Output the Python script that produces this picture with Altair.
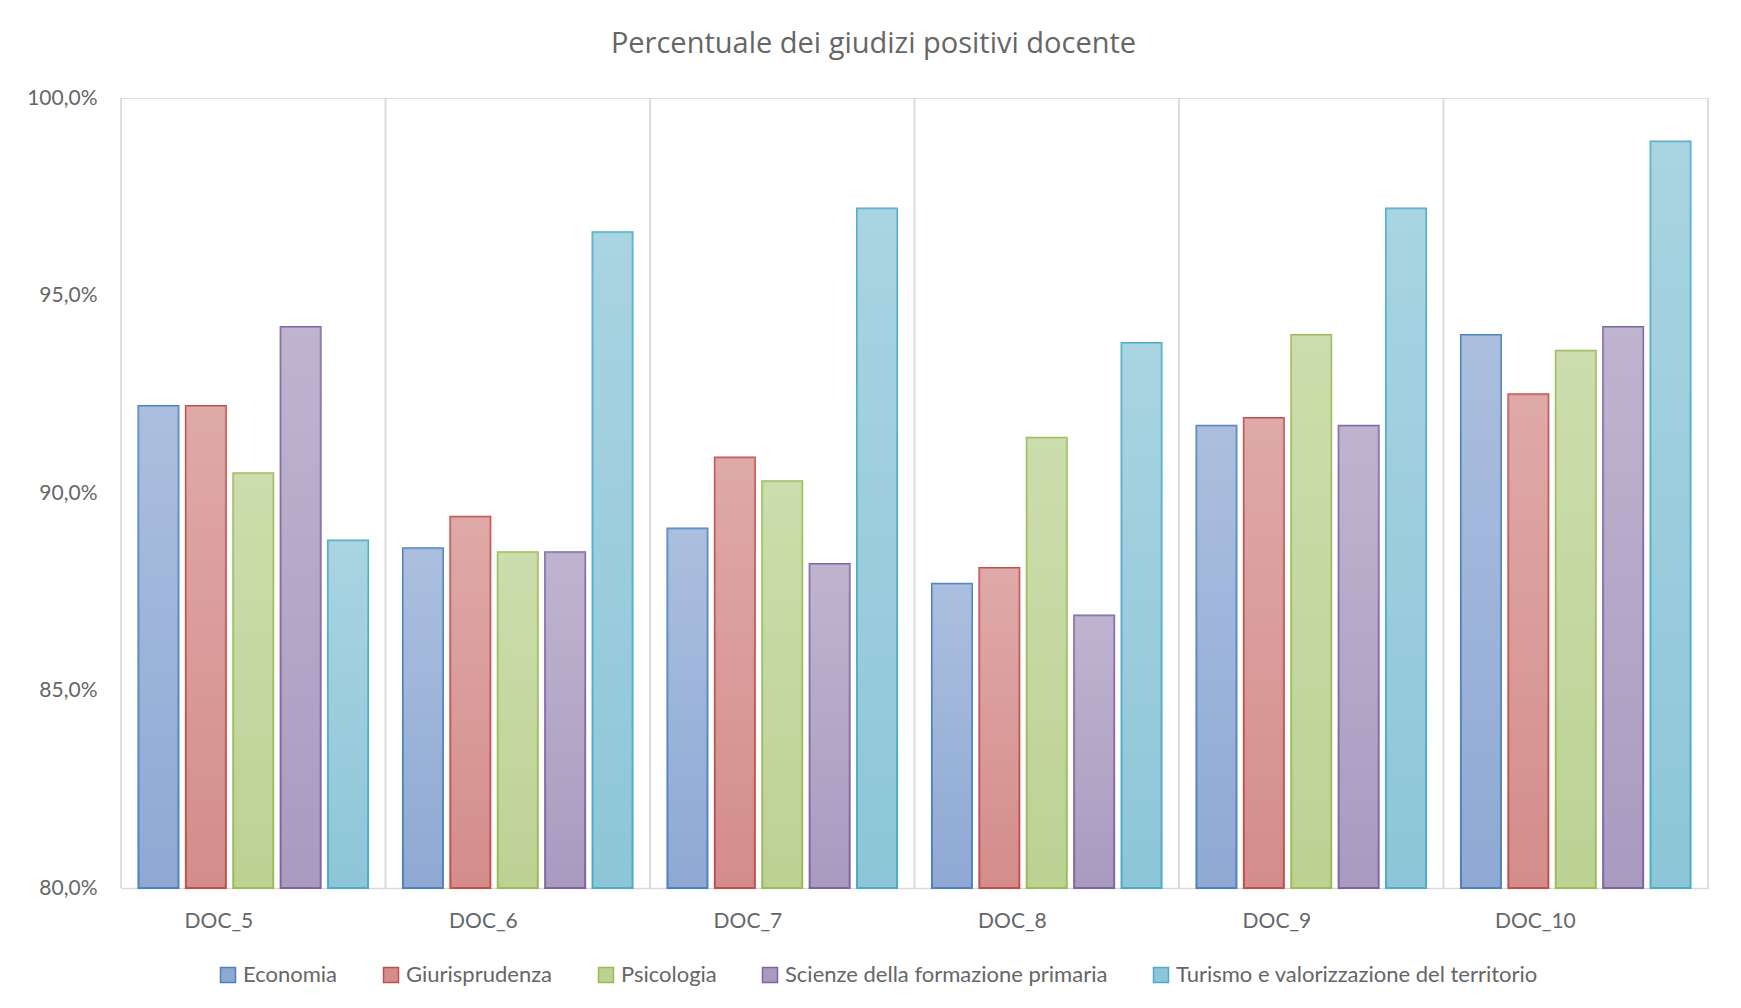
import altair as alt
import pandas as pd

docs = ["DOC_5", "DOC_6", "DOC_7", "DOC_8", "DOC_9", "DOC_10"]
series = [
    "Economia",
    "Giurisprudenza",
    "Psicologia",
    "Scienze della formazione primaria",
    "Turismo e valorizzazione del territorio",
]
economia = [92.2, 88.6, 89.1, 87.7, 91.7, 94.0]
giurisprudenza = [92.2, 89.4, 90.9, 88.1, 91.9, 92.5]
psicologia = [90.5, 88.5, 90.3, 91.4, 94.0, 93.6]
scienze = [94.2, 88.5, 88.2, 86.9, 91.7, 94.2]
turismo = [88.8, 96.6, 97.2, 93.8, 97.2, 98.9]

fill_colors = ["#8fa9d4", "#d48d8b", "#bcd293", "#a99bc0", "#8dc6d8"]
stroke_colors = ["#4f81bd", "#c0504d", "#9bbb59", "#8064a2", "#4bacc6"]

rows = []
for s, vals in zip(series, [economia, giurisprudenza, psicologia, scienze, turismo]):
    for d, v in zip(docs, vals):
        rows.append({"doc": d, "serie": s, "valore": v})
df = pd.DataFrame(rows)
docs_df = pd.DataFrame({"doc": docs})

FONT = "Lato"
TEXT = "#666666"
GRID = "#d9d9d9"
W, H = 1587, 790

x_scale = alt.Scale(domain=docs, paddingInner=0, paddingOuter=0)
y_scale = alt.Scale(domain=[80, 100], nice=False, zero=False)

x_enc = alt.X(
    "doc:N",
    scale=x_scale,
    sort=docs,
    title=None,
    axis=alt.Axis(
        labelFont=FONT, labelFontSize=21, labelColor=TEXT, labelPadding=33,
        ticks=False, domainColor=GRID, domainWidth=1.5, grid=False, labelAngle=0,
    ),
)
y_enc = alt.Y(
    "valore:Q",
    scale=y_scale,
    title=None,
    axis=alt.Axis(
        values=[80, 85, 90, 95, 100],
        labelExpr="replace(format(datum.value, '.1f'), '.', ',') + '%'",
        labelFont=FONT, labelFontSize=21, labelColor=TEXT, labelPadding=24,
        ticks=False, domain=False, grid=False,
    ),
)
xoff_enc = alt.XOffset(
    "serie:N", sort=series,
    scale=alt.Scale(domain=series, paddingInner=0.156, paddingOuter=0.368),
)

rule_start = alt.Chart(docs_df).mark_rule(color=GRID, strokeWidth=1.5).encode(
    x=alt.X("doc:N", scale=x_scale, sort=docs, bandPosition=0, title=None),
    y=alt.datum(80),
    y2=alt.datum(100),
)
rule_end = alt.Chart(docs_df).mark_rule(color=GRID, strokeWidth=1.5).encode(
    x=alt.X("doc:N", scale=x_scale, sort=docs, bandPosition=1, title=None),
    y=alt.datum(80),
    y2=alt.datum(100),
)

legend = alt.Legend(
    title=None, orient="none", direction="horizontal",
    legendX=96, legendY=866,
    labelFont=FONT, labelFontSize=22, labelColor=TEXT,
    symbolType="square", symbolSize=225, symbolStrokeWidth=1.5,
    columnPadding=42, labelOffset=4, labelLimit=700,
)

bars = alt.Chart(df).mark_bar(strokeWidth=2).encode(
    x=x_enc,
    xOffset=xoff_enc,
    y=y_enc,
    y2=alt.datum(80),
    fill=alt.Fill(
        "serie:N", sort=series,
        scale=alt.Scale(domain=series, range=fill_colors),
        legend=legend,
    ),
    stroke=alt.Stroke(
        "serie:N", sort=series,
        scale=alt.Scale(domain=series, range=stroke_colors),
        legend=legend,
    ),
)

gradient = {
    "gradient": "linear",
    "x1": 0, "y1": 0, "x2": 0, "y2": 1,
    "stops": [
        {"offset": 0, "color": "rgba(255,255,255,0.25)"},
        {"offset": 1, "color": "rgba(255,255,255,0)"},
    ],
}
overlay = alt.Chart(df).mark_bar(fill=gradient).encode(
    x=x_enc,
    xOffset=xoff_enc,
    y=y_enc,
    y2=alt.datum(80),
)

chart = alt.layer(rule_start, rule_end, bars, overlay).properties(
    width=W,
    height=H,
    padding={"left": 113, "top": 90, "right": 25, "bottom": 112},
    autosize=alt.AutoSizeParams(type="none"),
    title=alt.TitleParams(
        "Percentuale dei giudizi positivi docente",
        font="Open Sans", fontSize=29, fontWeight="normal", color=TEXT,
        anchor="middle", frame="group", dx=-41, offset=5, baseline="alphabetic",
    ),
).configure_view(stroke=None).configure(background="white")

chart.save("out.html", embed_options={"renderer": "svg", "actions": False})
